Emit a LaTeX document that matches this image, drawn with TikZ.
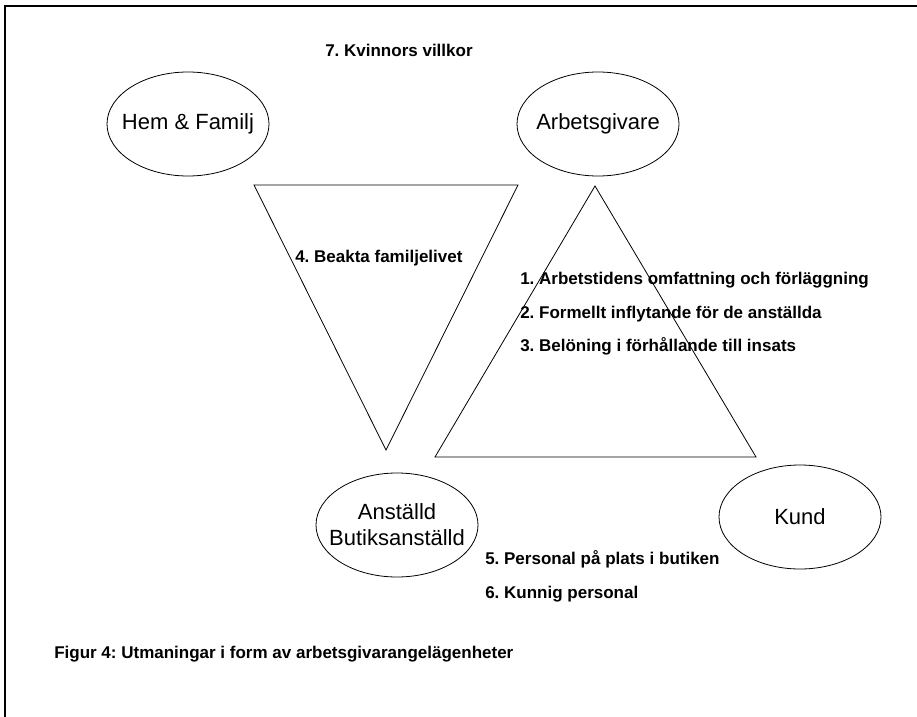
\documentclass[tikz,border=0pt]{standalone}
\usepackage{fontspec}
\setmainfont{Liberation Sans}
\frenchspacing
\usetikzlibrary{shapes.geometric}
\begin{document}
\begin{tikzpicture}[x=0.75pt,y=-0.75pt,
  ovaltext/.style={inner sep=0pt,align=center,font=\fontsize{16.5}{19.5}\selectfont},
  ovalline/.style={draw,line width=0.6pt},
  lbl/.style={anchor=base west,inner sep=0pt,font=\bfseries\fontsize{12.75}{15}\selectfont},
  tri/.style={draw,line width=0.6pt,line join=miter}]
\useasboundingbox (0,0) rectangle (917,717);
\draw[line width=1.2pt] (917,6) -- (5,6) -- (5,717);
% ellipses
\node[ovaltext] (hem) at (188,124) {Hem \& Familj};
\node[ovaltext] (arb) at (598,124) {Arbetsgivare};
\node[ovaltext] (ans) at (397,525) {Anställd\\Butiksanställd};
\node[ovaltext] (kund) at (800,517) {Kund};
\foreach \n in {hem,arb,ans,kund}
  \draw[ovalline] (\n.center) ellipse [x radius=60.75pt, y radius=39pt];
% triangles
\coordinate (t1a) at (254,185);
\coordinate (t1b) at (518,185);
\coordinate (t1c) at (386,450);
\draw[tri] (t1a) -- (t1b) -- (t1c) -- cycle;
\coordinate (t2a) at (595,186);
\coordinate (t2b) at (756,457);
\coordinate (t2c) at (435,457);
\draw[tri] (t2a) -- (t2b) -- (t2c) -- cycle;
% labels
\node[lbl] (l7) at (325,57) {7. Kvinnors villkor};
\node[lbl] (l4) at (295,262) {4. Beakta familjelivet};
\node[lbl] (l1) at (520,284) {1. Arbetstidens omfattning och förläggning};
\node[lbl] (l2) at (520,318) {2. Formellt inflytande för de anställda};
\node[lbl] (l3) at (520,351) {3. Belöning i förhållande till insats};
\node[lbl] (l5) at (485,564) {5. Personal på plats i butiken};
\node[lbl] (l6) at (485,598) {6. Kunnig personal};
\node[lbl] (fig) at (54,658) {Figur 4: Utmaningar i form av arbetsgivarangelägenheter};
\end{tikzpicture}
\end{document}
